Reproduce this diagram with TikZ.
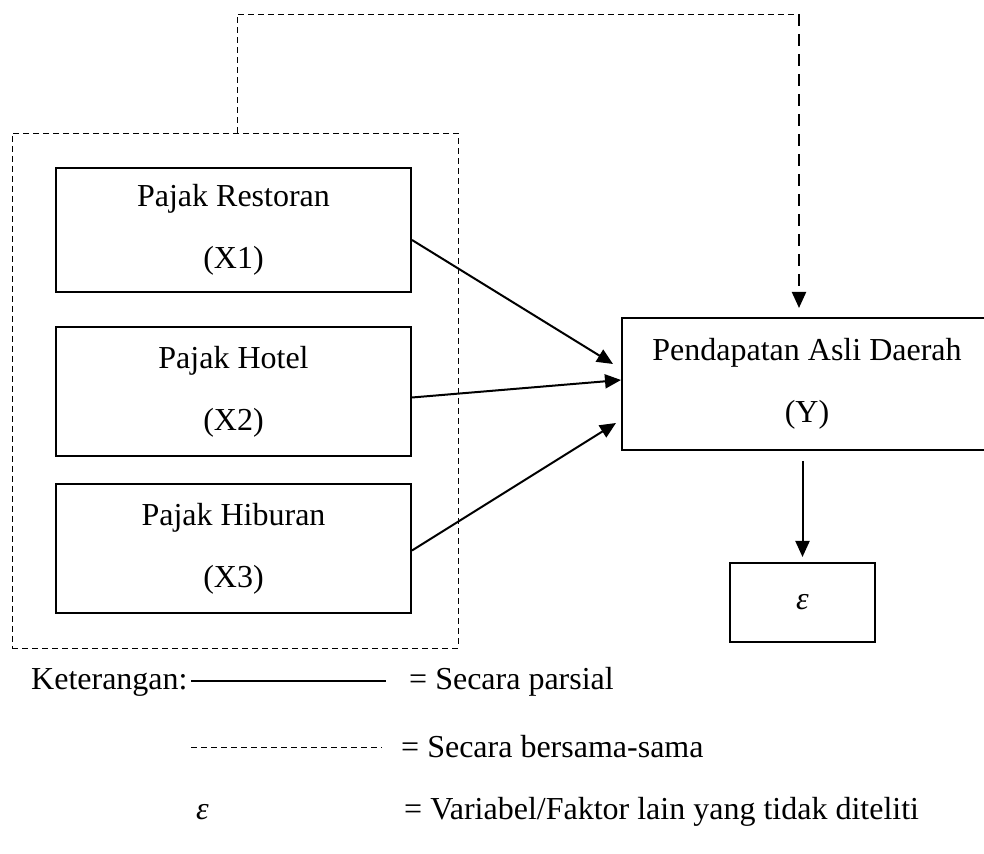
\documentclass[tikz,border=0pt]{standalone}
\usepackage{amsmath}
\usepackage{fontspec}
\setmainfont{Liberation Serif}
\usepackage{tikz}
\usetikzlibrary{arrows.meta}

\tikzset{
  kotak/.style={draw=black,line width=2pt,inner sep=0pt,align=center,
    font=\fontsize{32}{62}\selectfont},
  putus tipis/.style={line width=0.8pt,dash pattern=on 6pt off 4pt},
  putus tebal/.style={line width=2pt,dash pattern=on 12pt off 8pt},
  teks/.style={inner sep=0pt,anchor=west,font=\fontsize{32}{38}\selectfont}
}

\begin{document}
\begin{tikzpicture}[line join=miter,>={Triangle[length=16pt,width=14pt]},x=1pt,y=1pt]
\useasboundingbox (0,0) rectangle (984,853);
\clip (0,0) rectangle (984,853);
%\draw [help lines, step=50] (0,0) grid (984,853);

% kelompok X1, X2, X3
\node (grup) [draw,putus tipis,minimum width=446,minimum height=515] at (235,462.5) {};
\node (x1) [kotak,minimum width=355,minimum height=124] at (233.5,623) {Pajak Restoran\\(X1)};
\node (x2) [kotak,minimum width=355,minimum height=129] at (233.5,461.5) {Pajak Hotel\\(X2)};
\node (x3) [kotak,minimum width=355,minimum height=129] at (233.5,304.5) {Pajak Hiburan\\(X3)};

% variabel Y dan epsilon
\node (pad) [kotak,minimum width=370,minimum height=132] at (807,469) {Pendapatan Asli Daerah\\(Y)};
\node (eps) [kotak,minimum width=145,minimum height=79] at (802.5,250.5) {\itshape ε};

% pengaruh parsial
\draw[->,line width=2pt] ([yshift=-10pt]x1.east) -- ([shift={(-8pt,20pt)}]pad.west);
\draw[->,line width=2pt] ([yshift=-6pt]x2.east) -- ([yshift=4pt]pad.west);
\draw[->,line width=2pt] ([yshift=-2pt]x3.east) -- ([shift={(-5pt,-39pt)}]pad.west);
\draw[->,line width=2pt] ([yshift=-10pt]pad.south -| eps) -- ([yshift=5pt]eps.north);

% pengaruh bersama-sama
\coordinate (kiri atas) at (237,839);
\coordinate (kanan atas) at (799,839);
\draw[putus tipis] (grup.north -| kiri atas) -- (kiri atas) -- (kanan atas);
\draw[putus tebal,->] (kanan atas) -- ([yshift=9pt]pad.north -| kanan atas);

% keterangan
\node (ket) [teks] at (31,171) {Keterangan:};
\coordinate (g1a) at (191,172);
\coordinate (g1b) at (386,172);
\draw[line width=1.2pt] (g1a) -- (g1b);
\node (parsial) [teks] at (409,171) {= Secara parsial};

\coordinate (g2a) at (191,106);
\coordinate (g2b) at (382,106);
\draw[putus tipis] (g2a) -- (g2b);
\node (bersama) [teks] at (401,106) {= Secara bersama-sama};

\node (epsket) [teks] at (196,41) {\itshape ε};
\node (lain) [teks] at (404,41) {= Variabel/Faktor lain yang tidak diteliti};
\end{tikzpicture}
\end{document}
